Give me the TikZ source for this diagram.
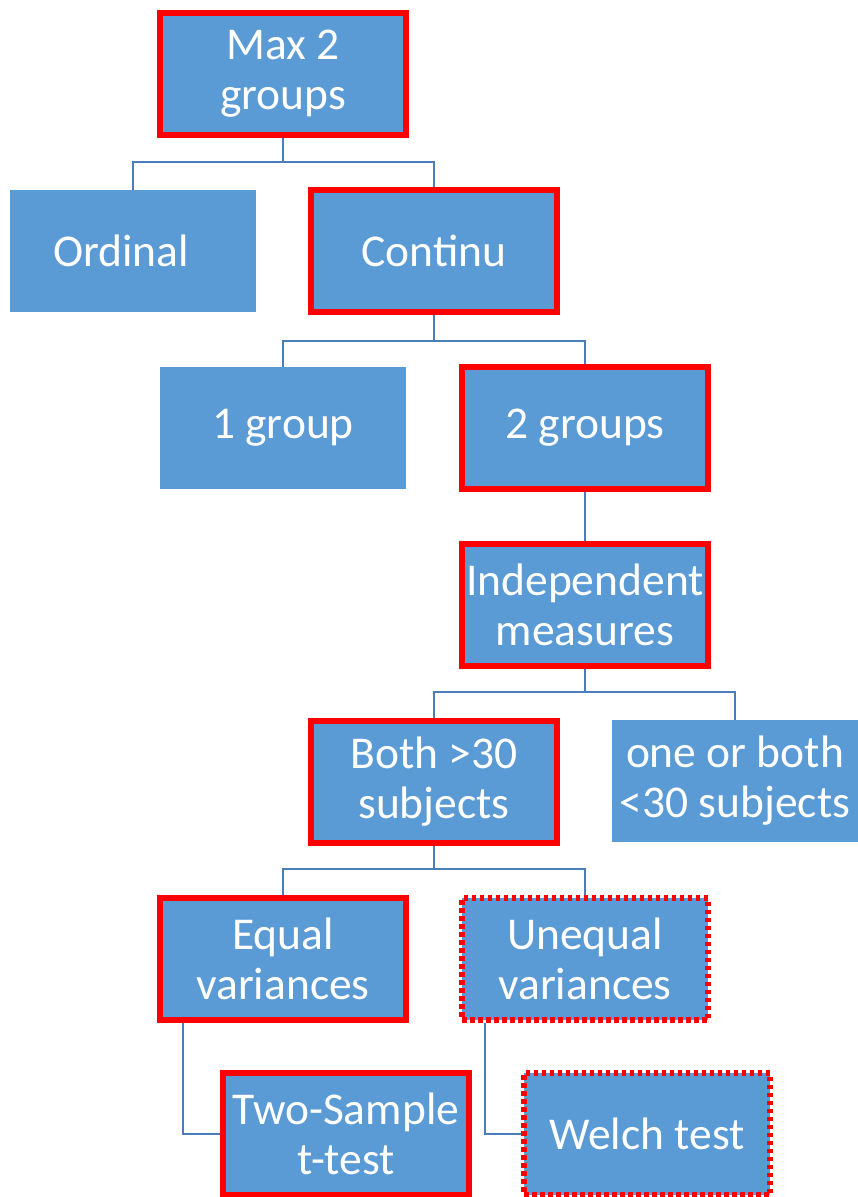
\documentclass[tikz,border=0pt]{standalone}
\usepackage{fontspec}
\setmainfont{Carlito}
\usetikzlibrary{backgrounds}
\definecolor{boxblue}{HTML}{5B9BD5}
\definecolor{linkblue}{HTML}{4A7EBB}
\definecolor{hired}{HTML}{FF0000}
\tikzset{
  box/.style={rectangle, fill=boxblue, minimum width=246pt, minimum height=122pt,
    inner sep=0pt, text=white, align=center, font=\fontsize{45.5}{50}\selectfont},
  chosen/.style={box, draw=hired, line width=6pt},
  maybe/.style={box, draw=hired, line width=5.5pt, dash pattern=on 4.5pt off 3.5pt},
  link/.style={draw=linkblue, line width=2pt}
}
\begin{document}
\begin{tikzpicture}[x=1pt,y=-1pt]
\useasboundingbox (0,0) rectangle (858,1197);
\node[chosen] (max) at (283,74) {Max 2\\groups};
\node[box] (ord) at (133,251) {Ordinal\hspace*{24pt}};
\node[chosen] (cont) at (434,251) {Continu};
\node[box] (one) at (283,428) {1 group};
\node[chosen] (two) at (585,428) {2 groups};
\node[chosen] (ind) at (585,605) {Independent\\measures};
\node[chosen] (both) at (434,782) {Both >30\\subjects};
\node[box] (few) at (735,781) {one or both\\<30 subjects};
\node[chosen] (eq) at (283,959) {Equal\\variances};
\node[maybe] (uneq) at (585,959) {Unequal\\variances};
\node[chosen] (tt) at (346,1134) {Two-Sample\\t-test};
\node[maybe] (welch) at (647,1134) {Welch test};

\coordinate (j1) at (283,162);
\coordinate (j2) at (434,341);
\coordinate (j3) at (585,692);
\coordinate (j4) at (434,869);
\coordinate (e1) at (183,1134);
\coordinate (e2) at (485,1134);

\begin{scope}[on background layer]
\draw[link] (max.south) -- (j1);
\draw[link] (j1) -| (ord.north);
\draw[link] (j1) -| (cont.north);
\draw[link] (cont.south) -- (j2);
\draw[link] (j2) -| (one.north);
\draw[link] (j2) -| (two.north);
\draw[link] (two.south) -- (ind.north);
\draw[link] (ind.south) -- (j3);
\draw[link] (j3) -| (both.north);
\draw[link] (j3) -| (few.north);
\draw[link] (both.south) -- (j4);
\draw[link] (j4) -| (eq.north);
\draw[link] (j4) -| (uneq.north);
\draw[link] (eq.south -| e1) -- (e1) -- (tt.west);
\draw[link] (uneq.south -| e2) -- (e2) -- (welch.west);
\end{scope}
\end{tikzpicture}
\end{document}
